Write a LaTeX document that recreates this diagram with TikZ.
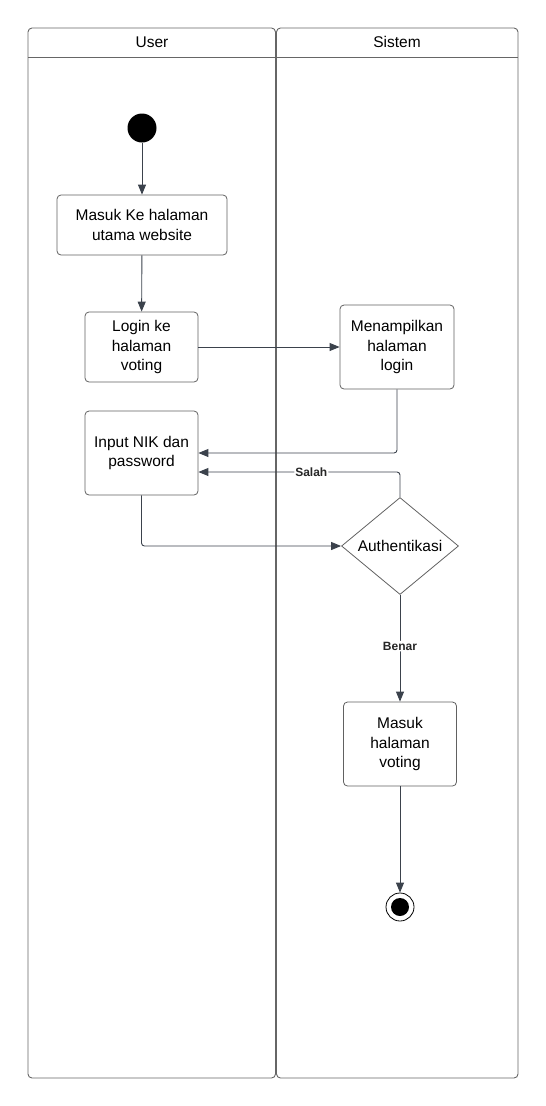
\documentclass[tikz,border=0pt]{standalone}
\usepackage{fontspec}
\setmainfont{Liberation Sans}
\usetikzlibrary{arrows.meta, shapes.geometric}
\colorlet{laneC}{black!60}
\colorlet{boxC}{black!62}
\definecolor{flowC}{HTML}{3B424C}
\tikzstyle{lane}=[draw=laneC, line width=0.9pt, rounded corners=4pt]
\tikzstyle{act}=[draw=boxC, line width=0.8pt, rounded corners=4pt, align=center, inner sep=0pt,
  font=\fontsize{15.5}{19.5}\selectfont]
\tikzstyle{flow}=[draw=flowC, line width=0.9pt, -{Triangle[length=10pt, width=8pt]}, rounded corners=3pt]
\tikzstyle{guard}=[fill=white, inner sep=1pt, text=black!85, font=\fontsize{12}{14}\selectfont\bfseries]

\begin{document}
\begin{tikzpicture}[x=1pt, y=-1pt]
  \useasboundingbox (0,0) rectangle (546,1106);

  % Swimlanes
  \draw[lane] (28,28) rectangle (275.5,1078);
  \draw[lane] (276.5,28) rectangle (518,1078);
  \draw[draw=laneC, line width=0.9pt] (28,57) -- (518,57);
  \node[font=\fontsize{15.5}{19}\selectfont] (userlane) at (152,42) {User};
  \node[font=\fontsize{15.5}{19}\selectfont] (sistemlane) at (397,42) {Sistem};

  % Activities
  \node[circle, fill=black, minimum size=29pt, inner sep=0pt] (start) at (142,128) {};
  \node[act, minimum width=170pt, minimum height=60pt] (masuk) at (142,225) {Masuk Ke halaman\\utama website};
  \node[act, minimum width=113pt, minimum height=70pt] (login) at (141.5,347) {Login ke\\halaman\\voting};
  \node[act, minimum width=114pt, minimum height=84pt] (tampil) at (397,347) {Menampilkan\\halaman\\login};
  \node[act, minimum width=113pt, minimum height=84pt] (input) at (141.5,453) {Input NIK dan\\password};
  \node[diamond, draw=boxC, line width=0.8pt, inner sep=0pt, minimum width=117pt, minimum height=97pt,
    font=\fontsize{15.5}{19.5}\selectfont] (auth) at (400,546) {Authentikasi};
  \node[act, minimum width=113pt, minimum height=84pt] (hasil) at (400,744) {Masuk\\halaman\\voting};
  \node[circle, draw=black, line width=0.8pt, minimum size=28pt, inner sep=0pt] (finish) at (400,907) {};
  \node[circle, fill=black, minimum size=18pt, inner sep=0pt] (finishdot) at (finish) {};

  % Flows
  \draw[flow] (start) -- (masuk);
  \draw[flow] (masuk) -- (login);
  \draw[flow] (login) -- (tampil);
  \draw[flow] (tampil.south) |- (input.east);
  \draw[flow] (auth.north) |- ([yshift=-19pt]input.east) node[guard, pos=0.72] {Salah};
  \draw[flow] (input.south) |- (auth.west);
  \draw[flow] (auth.south) -- (hasil.north) node[guard, pos=0.48] {Benar};
  \draw[flow] (hasil) -- (finish);
\end{tikzpicture}
\end{document}
